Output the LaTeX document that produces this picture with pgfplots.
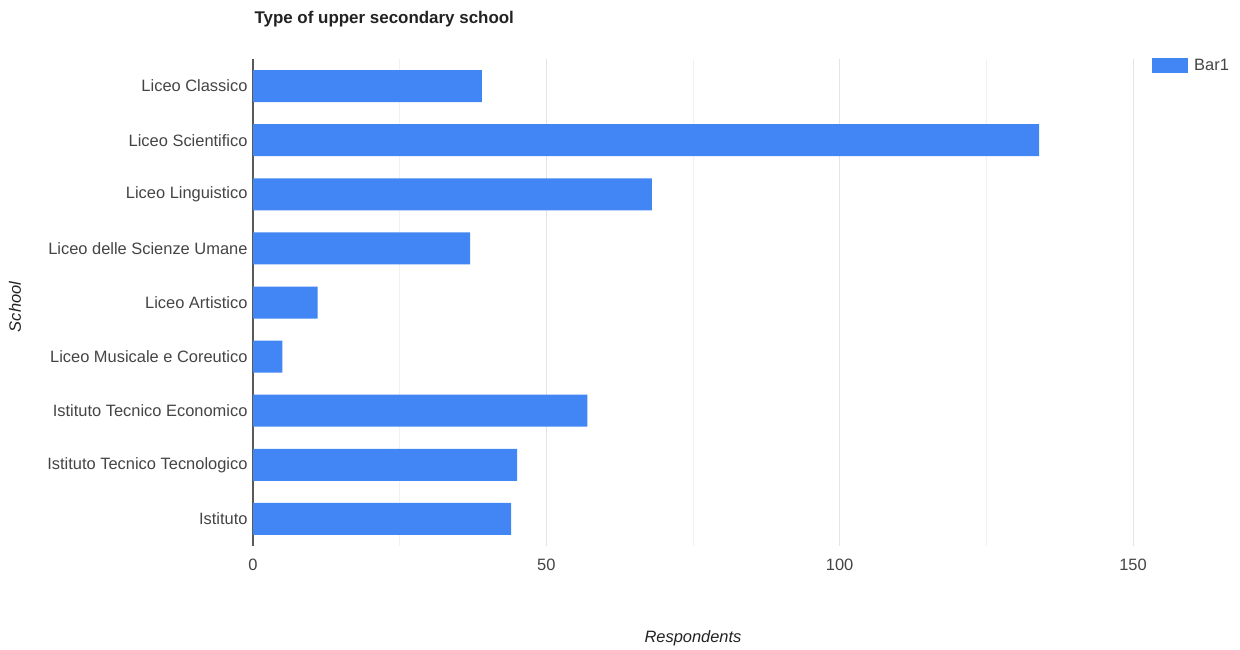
\documentclass[border=0pt]{standalone}
\usepackage{pgfplots}
\pgfplotsset{compat=1.18}
\usepackage{fontspec}
\setmainfont{Liberation Sans}
\definecolor{barblue}{HTML}{4285F4}
\definecolor{gridc}{HTML}{E4E4E4}
\definecolor{minorgrid}{HTML}{F1F1F1}
\definecolor{labc}{HTML}{444444}
\definecolor{titc}{HTML}{222222}
\begin{document}
\begin{tikzpicture}
\useasboundingbox (0bp,0bp) rectangle (1240bp,650bp);
\begin{axis}[
  at={(253bp,104bp)}, anchor=south west,
  scale only axis, width=880bp, height=487bp,
  xmin=0, xmax=150, ymin=-0.5, ymax=8.5, y dir=reverse,
  xbar, bar width=32bp,
  xtick={0,50,100,150}, minor xtick={25,75,125},
  xmajorgrids, xminorgrids,
  major grid style={gridc, line width=1bp},
  minor grid style={minorgrid, line width=1bp},
  extra x ticks={0}, extra x tick labels={},
  extra x tick style={grid=major, major grid style={color=black!65, line width=1.2bp}},
  ytick={0,...,8},
  yticklabels={Liceo Classico, Liceo Scientifico, Liceo Linguistico, Liceo delle Scienze Umane, Liceo Artistico, Liceo Musicale e Coreutico, Istituto Tecnico Economico, Istituto Tecnico Tecnologico, Istituto},
  axis line style={draw=none},
  major tick length=0, minor tick length=0,
  tick label style={font=\fontsize{16.5}{18}\selectfont, text=labc},
  /pgf/number format/assume math mode=true,
  xticklabel style={yshift=-9bp},
  yticklabel style={xshift=-2bp},
  legend style={at={(1.0216,0.986)}, anchor=west, draw=none, fill=none, inner sep=0pt,
    font=\fontsize{16.5}{18}\selectfont, text=labc,
    nodes={inner xsep=6bp}},
  legend cell align=left,
  legend image code/.code={\fill[barblue] (0bp,-7.5bp) rectangle (36bp,7.5bp);},
]
\addplot[draw=none, fill=barblue] coordinates {(39,0) (134,1) (68,2) (37,3) (11,4) (5,5) (57,6) (45,7) (44,8)};
\legend{Bar1}
\end{axis}
\node[anchor=base west, font=\bfseries\fontsize{17}{20}\selectfont, text=titc] at (251bp,626bp) {Type of upper secondary school};
\node[anchor=base, font=\itshape\fontsize{16.5}{18}\selectfont, text=titc] at (693bp,8bp) {Respondents};
\node[rotate=90, font=\itshape\fontsize{16.5}{18}\selectfont, text=titc] at (15bp,343bp) {School};
\end{tikzpicture}
\end{document}
